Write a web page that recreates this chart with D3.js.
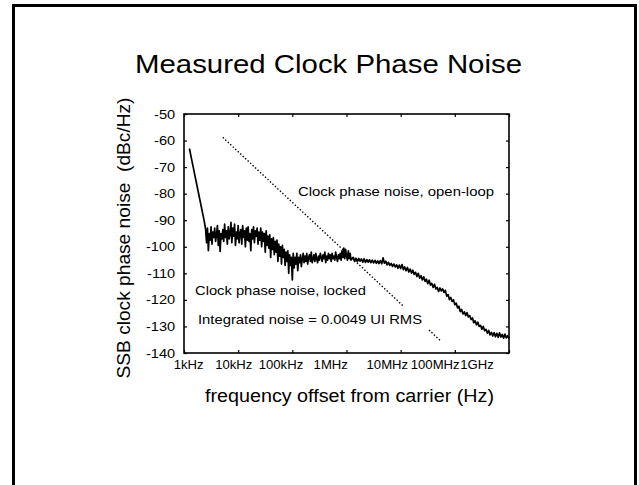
<!DOCTYPE html>
<html><head><meta charset="utf-8">
<script src="https://cdn.jsdelivr.net/npm/d3@7"></script>
<style>
html,body{margin:0;padding:0;background:#fff;}
svg{display:block;}
text{font-family:"Liberation Sans", Arial, Helvetica, sans-serif; fill:#000;}
</style>
</head><body>
<svg id="c" width="639" height="485"></svg>
<script>
// ---------- data ----------
const tickHz = [1e3, 1e4, 1e5, 1e6, 1e7, 1e8, 1e9];
const tickLabels = ["1kHz", "10kHz", "100kHz", "1MHz", "10MHz", "100MHz", "1GHz"];
const dbTicks = [-50, -60, -70, -80, -90, -100, -110, -120, -130, -140];
const dbTickLabels = ["-50", "-60", "-70", "-80", "-90", "-100", "-110", "-120", "-130", "-140"];

// open-loop asymptote (dotted line)
const openLoopHz = [5.2e3, 5.5e7];
const openLoopDb = [-58.8, -135.5];

// locked measurement: three log-swept segments
const skirtStartHz = 1259, skirtStopHz = 2512;
const skirtDb = [-63, -65.5, -68, -70.5, -73, -75.5, -78, -80.5, -83, -85.5, -88, -90.5, -93.5];

const plateauStartHz = 2512, plateauStopHz = 1.259e6;
const plateauDb = [
  -94, -98.5, -93, -101.5, -95, -97.5, -92.5, -99, -94.5, -96.5,
  -93, -98, -95.5, -92, -99.5, -94, -101.8, -95, -97, -93.5,
  -98, -91.5, -96.5, -94, -99, -92.5, -97, -95, -90.8, -98.5,
  -93, -96, -91.5, -99.5, -94.5, -97, -92, -98.5, -95, -93.5,
  -99, -92, -96.5, -94, -100, -93, -97.5, -92.5, -98, -95,
  -101.5, -93.5, -97, -92.5, -98.5, -94, -96, -93, -99, -94.5,
  -97.5, -93, -100, -94.5, -98, -95, -102, -94, -99.5, -96,
  -100.5, -95.5, -104, -97, -101, -96.5, -103, -98, -102, -97.5,
  -105.5, -99, -103.5, -100, -106.5, -99.5, -104, -101, -107, -102,
  -105.5, -101.5, -110, -103, -107, -104, -112.5, -102.5, -108, -104,
  -106.5, -102.5, -109, -104, -106, -103, -107.5, -104.5, -102.5, -106,
  -103.5, -105.5, -102.5, -106.5, -104, -103, -105.5, -102, -106, -104.5,
  -103, -105.5, -102.5, -104.5, -106, -103.5, -105, -102.5, -104, -105.5,
  -103, -104.5, -102, -106, -103.5, -105, -102.5, -104.5, -103, -105.5,
  -102.5, -104.5, -103.5, -105, -102, -104, -105.5, -103, -104.5, -102.5,
  -105, -101.5, -104, -100.5, -104.5, -101, -103.5, -105, -101.5, -104.5,
  -102.5, -105, -104.5
];

const rolloffStartHz = 1.259e6, rolloffStopHz = 1e9;
const rolloffDb = [
  -104.5,
  -104, -105.5, -104.3, -105.6, -104.4, -105.4, -104.6, -105.8, -104.5, -105.9,
  -104.8, -105.8, -104.9, -106, -105, -106.1, -105.1, -106.2, -105.3, -106.3,
  -105.2, -106.4, -104.2, -106.2, -105.4, -106.8, -105.9, -107, -106.3, -107.4,
  -106.5, -107.6, -106.8, -108.1, -106.9, -108.2, -106.7, -108.6, -107.6, -109,
  -107.8, -109.5, -108.4, -109.9, -108.8, -110.4, -109.6, -111.2, -110, -111.8,
  -110.9, -112.5, -111.3, -113, -112.2, -113.9, -112.6, -114.4, -113.8, -115.3,
  -114.1, -115.9, -115.3, -116.8, -115.5, -116.6, -115.9, -117.2, -116.4, -118.6,
  -118, -119.9, -119.1, -120.6, -120, -121.8, -121.2, -123, -122.4, -124.4,
  -123.6, -125.3, -124.5, -125.9, -124.8, -126.4, -125.9, -127.4, -126.8, -128.6,
  -127.9, -129.4, -128.4, -130, -129.6, -131, -130, -131.6, -131.1, -132.5,
  -131.5, -133.2, -132.2, -133.6, -132.3, -133.9, -132.6, -134.1, -132.4, -134,
  -133, -134.4, -132.9, -134.3, -133.5, -134.6
];

const titleText = "Measured Clock Phase Noise";
const yTitle = "SSB clock phase noise  (dBc/Hz)";
const xTitle = "frequency offset from carrier (Hz)";
const noteOpen = "Clock phase noise, open-loop";
const noteLocked = "Clock phase noise, locked";
const noteIntegrated = "Integrated noise = 0.0049 UI RMS";

// ---------- layout ----------
const plot = {left: 184, right: 509, top: 114, bottom: 353};
const tickLabelShift = [4, -4.7, -11.3, -15.5, -13.2, -19.2, -31];

const svg = d3.select("#c");

// slide border
svg.append("rect").attr("x", 13.5).attr("y", 5.5).attr("width", 622).attr("height", 500)
  .attr("fill", "none").attr("stroke", "#000").attr("stroke-width", 3);

const x = d3.scaleLog().domain([1e3, 1e9]).range([plot.left, plot.right]);
const y = d3.scaleLinear().domain([-140, -50]).range([plot.bottom, plot.top]);

function styleAxis(g, fs) {
  g.attr("font-family", null).attr("font-size", fs);
  g.select(".domain").remove();
  g.selectAll(".tick line").attr("stroke-width", 1.2);
}

// bottom
const gx = svg.append("g").attr("transform", `translate(0,${plot.bottom})`)
  .call(d3.axisBottom(x).tickValues(tickHz).tickFormat((d, i) => tickLabels[i])
    .tickSizeInner(-3).tickSizeOuter(0).tickPadding(7.5));
styleAxis(gx, 12.5);
gx.selectAll(".tick text").attr("dx", (d, i) => tickLabelShift[i]).attr("transform", "scale(1.05,1)");

// top
const gt = svg.append("g").attr("transform", `translate(0,${plot.top})`)
  .call(d3.axisTop(x).tickValues(tickHz).tickFormat(() => "").tickSizeInner(-3).tickSizeOuter(0));
styleAxis(gt, 12);

// left
const gy = svg.append("g").attr("transform", `translate(${plot.left},0)`)
  .call(d3.axisLeft(y).tickValues(dbTicks).tickFormat((d, i) => dbTickLabels[i])
    .tickSizeInner(-3).tickSizeOuter(0).tickPadding(7.5));
styleAxis(gy, 12.5);
gy.selectAll(".tick text").attr("transform", "scale(1.17,1)");

// right
const gr = svg.append("g").attr("transform", `translate(${plot.right},0)`)
  .call(d3.axisRight(y).tickValues(dbTicks).tickFormat(() => "").tickSizeInner(-3).tickSizeOuter(0));
styleAxis(gr, 12);

// frame
svg.append("rect").attr("x", plot.left).attr("y", plot.top)
  .attr("width", plot.right - plot.left).attr("height", plot.bottom - plot.top)
  .attr("fill", "none").attr("stroke", "#000").attr("stroke-width", 1.6);

// open-loop dotted line
const openData = openLoopHz.map((f, i) => ({f, v: openLoopDb[i]}));
svg.append("path").datum(openData)
  .attr("d", d3.line().x(d => x(d.f)).y(d => y(d.v)))
  .attr("fill", "none").attr("stroke", "#000").attr("stroke-width", 1.4)
  .attr("stroke-dasharray", "1.4 2");

// locked trace
function sweep(startHz, stopHz, values) {
  const lo = Math.log10(startHz), hi = Math.log10(stopHz), n = values.length;
  return values.map((v, i) => ({f: Math.pow(10, lo + (hi - lo) * i / (n - 1)), v}));
}
const traceData = [
  ...sweep(skirtStartHz, skirtStopHz, skirtDb),
  ...sweep(plateauStartHz, plateauStopHz, plateauDb),
  ...sweep(rolloffStartHz, rolloffStopHz, rolloffDb)
];
svg.append("path").datum(traceData)
  .attr("d", d3.line().x(d => x(d.f)).y(d => y(d.v)))
  .attr("fill", "none").attr("stroke", "#000").attr("stroke-width", 1.7)
  .attr("stroke-linejoin", "round");

function label(txt, px, py, size, len, anchor) {
  return svg.append("text").attr("x", px).attr("y", py).attr("font-size", size)
    .attr("text-anchor", anchor || "start")
    .attr("textLength", len).attr("lengthAdjust", "spacingAndGlyphs")
    .style("white-space", "pre").text(txt);
}

// annotations
label(noteOpen, 298, 196, 13.5, 196);
label(noteLocked, 195, 294.5, 13.5, 171);
svg.append("rect").attr("x", 195).attr("y", 306).attr("width", 233).attr("height", 24).attr("fill", "#fff");
label(noteIntegrated, 198, 323.5, 13.5, 224);

// titles
label(titleText, 135, 73, 26, 387);
label(xTitle, 205, 402, 18, 289);
label(yTitle, 0, 0, 19, 281, "middle").attr("transform", "translate(130,238) rotate(-90)");
</script>
</body></html>
